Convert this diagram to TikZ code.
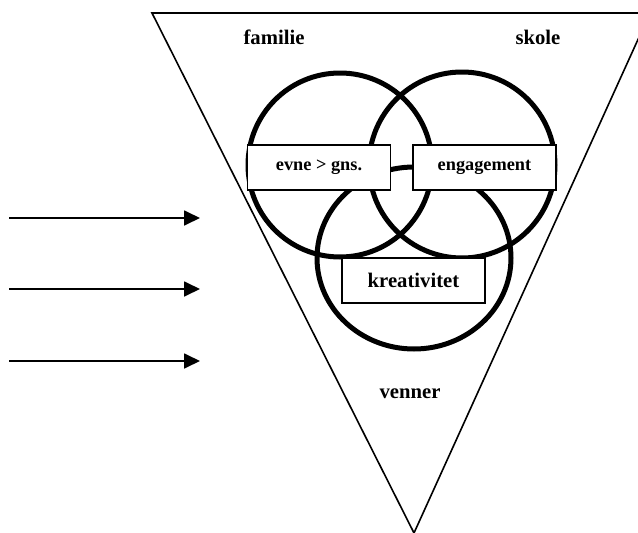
\documentclass[tikz,border=0pt]{standalone}
\usepackage{fontspec}
\setmainfont{Liberation Serif}
\usetikzlibrary{arrows.meta,calc}

\begin{document}
\begin{tikzpicture}[x=1pt, y=-1pt,
    ring/.style = {line width=5pt},
    boxnode/.style = {draw, line width=1.5pt, fill=white, inner sep=0pt,
        minimum width=143pt, minimum height=45pt,
        font=\fontsize{18.3}{20}\selectfont\bfseries},
    areanode/.style = {font=\fontsize{20.7}{23}\selectfont\bfseries},
    flow/.style = {line width=1.8pt, -{Triangle[length=16pt, width=15pt]}}]
    \clip(0,0)rectangle(638,533);

    % tragt
    \coordinate(TL)at(152,13);
    \coordinate(TR)at(650,13);
    \coordinate(TB)at(414,533);
    \path[draw, line width=1.6pt](TL)to(TR)to(TB)to cycle;

    % omgivelser
    \node[areanode](familie)at(274,37){familie};
    \node[areanode](skole)at(538,37){skole};
    \node[areanode](venner)at(410,394){venner};

    % cirkler
    \coordinate(CL)at(340,165);
    \coordinate(CR)at(462,165);
    \coordinate(CB)at(414,258);
    \path[draw, ring](CL)circle[radius=92];
    \path[draw, ring](CR)circle[radius=93];
    \path[draw, ring](CB)ellipse[x radius=97, y radius=91];

    % kasser
    \node[boxnode](evne)at(319,167.5){evne > gns.};
    \node[boxnode](engagement)at(484.5,167.5){engagement};
    \node[boxnode, font=\fontsize{20.7}{23}\selectfont\bfseries](kreativitet)at(413.5,280.5){kreativitet};

    % pile
    \foreach \y [count=\i] in {218,289,361}{
        \coordinate(start\i)at(9,\y);
        \coordinate(end\i)at(200,\y);
        \path[draw, flow](start\i)to(end\i);
    }
\end{tikzpicture}
\end{document}
